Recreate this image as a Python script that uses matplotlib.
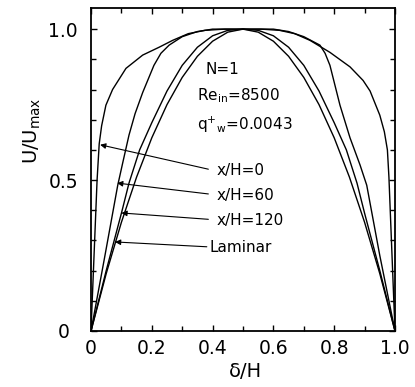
import matplotlib
matplotlib.use("Agg")
import matplotlib.pyplot as plt

plt.rcParams['font.family'] = ['DejaVu Sans']
plt.rcParams['mathtext.fontset'] = 'dejavusans'

# ---- data ----
x_h0 = [0, 0.020, 0.027, 0.035, 0.049, 0.071, 0.115, 0.170, 0.224, 0.269, 0.320,
        0.375, 0.440, 0.500, 0.560, 0.620, 0.670, 0.720, 0.786, 0.852, 0.895,
        0.918, 0.950, 0.965, 0.975, 0.980, 1.0]
y_h0 = [0, 0.50, 0.62, 0.68, 0.748, 0.80, 0.87, 0.914, 0.94, 0.963, 0.985,
        0.996, 1.0, 1.0, 1.0, 0.996, 0.985, 0.963, 0.923, 0.875, 0.83,
        0.795, 0.715, 0.66, 0.60, 0.51, 0]

x_h60 = [0, 0.045, 0.088, 0.105, 0.125, 0.145, 0.170, 0.207, 0.230, 0.257, 0.300,
         0.350, 0.400, 0.500, 0.600, 0.650, 0.700, 0.753, 0.770, 0.786, 0.819,
         0.852, 0.885, 0.907, 0.950, 1.0]
y_h60 = [0, 0.245, 0.483, 0.56, 0.649, 0.72, 0.79, 0.88, 0.92, 0.947, 0.975,
         0.992, 1.0, 1.0, 1.0, 0.992, 0.975, 0.947, 0.92, 0.88, 0.748,
         0.64, 0.55, 0.483, 0.25, 0]

x_h120 = [0, 0.05, 0.10, 0.125, 0.16, 0.20, 0.25, 0.30, 0.35, 0.40, 0.45, 0.50,
          0.55, 0.60, 0.65, 0.70, 0.75, 0.80, 0.84, 0.875, 0.90, 0.95, 1.0]
y_h120 = [0, 0.20, 0.39, 0.49, 0.60, 0.69, 0.795, 0.88, 0.94, 0.978, 0.996, 1.0,
          0.996, 0.978, 0.94, 0.88, 0.795, 0.69, 0.60, 0.49, 0.39, 0.20, 0]

x_lam = [0, 0.05, 0.10, 0.15, 0.20, 0.25, 0.30, 0.35, 0.40, 0.45, 0.50,
         0.55, 0.60, 0.65, 0.70, 0.75, 0.80, 0.85, 0.90, 0.95, 1.0]
y_lam = [0, 0.19, 0.36, 0.51, 0.64, 0.75, 0.84, 0.91, 0.96, 0.99, 1.0,
         0.99, 0.96, 0.91, 0.84, 0.75, 0.64, 0.51, 0.36, 0.19, 0]

curve_labels = ["x/H=0", "x/H=60", "x/H=120", "Laminar"]
arrow_tips = [(0.030, 0.617), (0.086, 0.490), (0.100, 0.391), (0.079, 0.295)]

xtick_vals = [0, 0.2, 0.4, 0.6, 0.8, 1.0]
xtick_labels = ["0", "0.2", "0.4", "0.6", "0.8", "1.0"]
ytick_vals = [0, 0.5, 1.0]
ytick_labels = ["0", "0.5", "1.0"]

# ---- figure ----
fig = plt.figure(figsize=(4.15, 3.87), dpi=100)
ax = fig.add_axes([91/415, 56/387, 304/415, 323/387])

for xs, ys in [(x_h0, y_h0), (x_h60, y_h60), (x_h120, y_h120), (x_lam, y_lam)]:
    ax.plot(xs, ys, color='black', lw=1.0, solid_joinstyle='round')

ax.set_xlim(0, 1.0)
ax.set_ylim(0, 1.07)

ax.set_xticks(xtick_vals)
ax.set_xticklabels(xtick_labels)
ax.set_yticks(ytick_vals)
ax.set_yticklabels(ytick_labels)
ax.set_xticks([i / 10 for i in range(11)], minor=True)
ax.set_yticks([i / 10 for i in range(11)], minor=True)

ax.tick_params(which='both', direction='in', top=True, right=True, width=1.0)
ax.tick_params(which='major', length=4.5, labelsize=13.5)
ax.tick_params(which='minor', length=3.3)
ax.tick_params(axis='x', pad=6)
ax.tick_params(axis='y', pad=20)
for lab in ax.get_yticklabels():
    lab.set_horizontalalignment('center')

for sp in ax.spines.values():
    sp.set_linewidth(1.3)

ax.text(-0.194, 0.62, r'U/U$_{\mathrm{max}}$', transform=ax.transAxes,
        rotation=90, ha='center', va='center', fontsize=14)
ax.text(0.507, -0.124, 'δ/H', transform=ax.transAxes,
        ha='center', va='center', fontsize=14)

# annotation block
ax.text(0.375, 0.85, 'N=1', fontsize=11, ha='left', va='baseline')
ax.text(0.349, 0.765, r'Re$_{\mathrm{in}}$=8500', fontsize=11, ha='left', va='baseline')
ax.text(0.349, 0.666, r'q$^{+}{}_{\mathrm{w}}$=0.0043', fontsize=11, ha='left', va='baseline')

# curve labels with arrows
label_pos = [(0.413, 0.517), (0.413, 0.434), (0.413, 0.351), (0.389, 0.263)]
tail_pos = [(0.386, 0.536), (0.386, 0.454), (0.386, 0.370), (0.381, 0.279)]
for lab, (lx, ly), tip, tail in zip(curve_labels, label_pos, arrow_tips, tail_pos):
    ax.text(lx, ly, lab, fontsize=11, ha='left', va='baseline')
    ax.annotate('', xy=tip, xytext=tail,
                arrowprops=dict(arrowstyle='-|>', color='black', lw=0.8,
                                mutation_scale=8, shrinkA=0, shrinkB=0))

fig.savefig('out.png', dpi=100)
